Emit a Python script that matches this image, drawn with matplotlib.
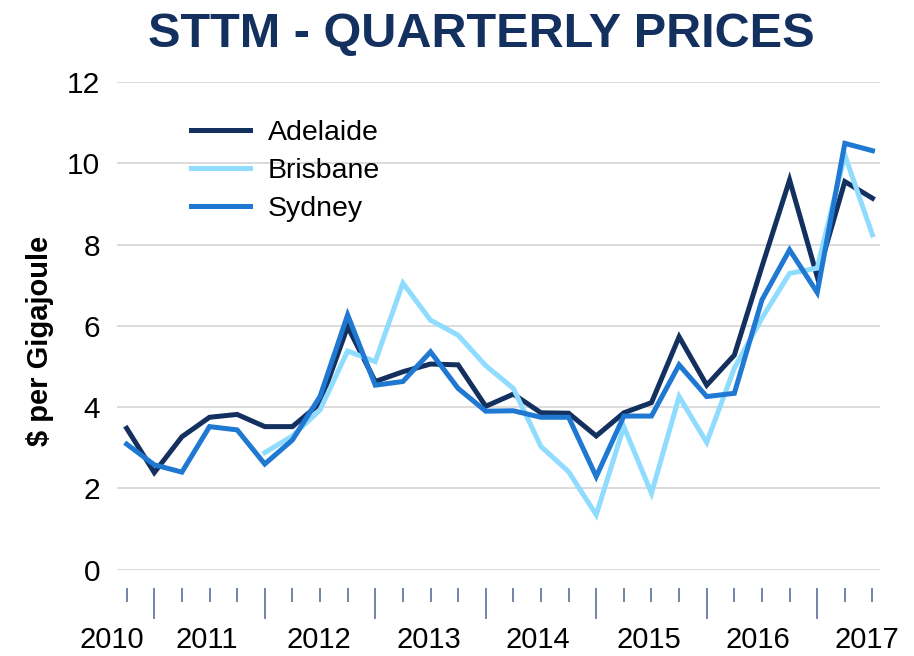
import matplotlib
matplotlib.use("Agg")
import matplotlib.pyplot as plt
import matplotlib.transforms as mtransforms
import numpy as np

# quarterly STTM prices ($/GJ), 28 quarters
adelaide = [3.48, 2.39, 3.27, 3.75, 3.82, 3.52, 3.52, 4.09, 5.98, 4.63,
            4.87, 5.06, 5.04, 4.02, 4.32, 3.86, 3.85, 3.29, 3.86, 4.11,
            5.73, 4.54, 5.28, 7.46, 9.59, 7.21, 9.55, 9.14]
brisbane = [None, None, None, None, None, 2.88, 3.29, 3.93, 5.38, 5.12,
            7.05, 6.14, 5.77, 5.02, 4.46, 3.03, 2.41, 1.35, 3.52, 1.88,
            4.26, 3.13, 4.96, 6.19, 7.29, 7.42, 10.2, 8.24]
sydney = [3.09, 2.58, 2.40, 3.52, 3.44, 2.60, 3.19, 4.26, 6.27, 4.54,
          4.63, 5.36, 4.46, 3.90, 3.91, 3.75, 3.75, 2.29, 3.78, 3.78,
          5.04, 4.26, 4.34, 6.64, 7.87, 6.82, 10.49, 10.31]
years = ["2010", "2011", "2012", "2013", "2014", "2015", "2016", "2017"]
year_pos = [-0.55, 2.9, 6.95, 10.95, 14.9, 18.9, 22.85, 26.8]

navy = "#13305f"
light = "#8fdcff"
mid = "#1f78d1"

plt.rcParams['font.family'] = ['Liberation Sans', 'DejaVu Sans']

fig = plt.figure(figsize=(9.14, 6.56), dpi=100)
ax = fig.add_axes([0.1277, 0.1316, 0.835, 0.7434])

x = np.arange(len(adelaide))
b = np.array([np.nan if v is None else v for v in brisbane], dtype=float)
ax.plot(x, adelaide, color=navy, lw=3.6, label="Adelaide", solid_joinstyle='miter')
ax.plot(x, b, color=light, lw=3.6, label="Brisbane", solid_joinstyle='miter')
ax.plot(x, sydney, color=mid, lw=3.6, label="Sydney", solid_joinstyle='miter')

ax.set_xlim(-0.36, 27.27)
ax.set_ylim(0, 12)
ax.set_yticks(range(0, 13, 2))
ax.yaxis.grid(True, color="#d9d9d9", lw=1.3)
ax.set_axisbelow(True)
for s in ["top", "right", "left"]:
    ax.spines[s].set_visible(False)
ax.spines["bottom"].set_position(("outward", 13))
ax.spines["bottom"].set_visible(False)

ax.tick_params(axis="y", length=0, pad=12, labelsize=21.5)
major = [i for i in x if i % 4 == 1]
minor = [i for i in x if i % 4 != 1]
ax.set_xticks(major)
ax.set_xticks(minor, minor=True)
ax.set_xticklabels([])
ax.tick_params(axis="x", which="major", length=22.3, width=1.1, color="#4a6590")
ax.tick_params(axis="x", which="minor", length=10, width=1.1, color="#4a6590")

trans = mtransforms.blended_transform_factory(ax.transData, ax.transAxes)
for yr, p in zip(years, year_pos):
    ax.text(p, -0.115, yr, transform=trans, ha="center", va="top", fontsize=21)

ax.set_ylabel("$ per Gigajoule", fontsize=21, fontweight="bold")
ax.yaxis.set_label_coords(-0.082, 0.47)

fig.text(481 / 914, 1 - 47 / 656, "STTM - QUARTERLY PRICES", ha="center",
         va="baseline", fontsize=35, fontweight="bold", color=navy)

ax.legend(loc="upper left", bbox_to_anchor=(0.0973, 0.922), frameon=False,
          fontsize=20.5, handlelength=2.07, handletextpad=0.63, labelspacing=0.42,
          borderpad=0, borderaxespad=0)

fig.savefig("out.png", dpi=100)
